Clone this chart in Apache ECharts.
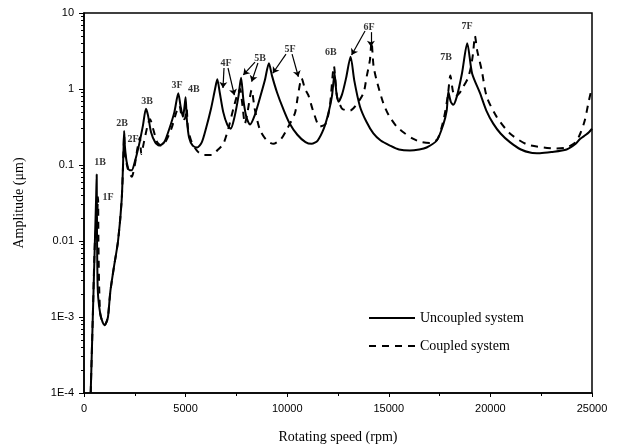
<!DOCTYPE html>
<html>
<head>
<meta charset="utf-8">
<script src="https://cdn.jsdelivr.net/npm/echarts@6/dist/echarts.min.js"></script>
<style>
  html, body { margin: 0; padding: 0; background: #fff; }
  #chart { width: 627px; height: 447px; }
</style>
</head>
<body>
<div id="chart"></div>
<script>
// uncoupled system (solid)
const uncoupledRpm = [330, 433, 537, 600, 625, 640, 665, 700, 800, 920, 1020, 1100, 1180, 1300, 1476, 1675, 1855, 1945, 1975, 2010, 2100, 2250, 2350, 2500, 2700, 2900, 3050, 3150, 3300, 3500, 3700, 3950, 4200, 4450, 4640, 4750, 4870, 4950, 5000, 5060, 5170, 5350, 5575, 5800, 6000, 6250, 6450, 6560, 6680, 6850, 7050, 7220, 7400, 7600, 7730, 7850, 8000, 8170, 8400, 8650, 8900, 9100, 9250, 9500, 9800, 10100, 10500, 10900, 11200, 11500, 11800, 12000, 12200, 12330, 12420, 12520, 12700, 12900, 13120, 13300, 13580, 13900, 14240, 14600, 15060, 15500, 16040, 16500, 16860, 17360, 17680, 17850, 17930, 18050, 18170, 18350, 18600, 18860, 19100, 19490, 19800, 20140, 20500, 20960, 21500, 22000, 22440, 23000, 23750, 24200, 24410, 24700, 24850, 25000]
const uncoupledAmp = [1e-4, 1e-3, 0.01, 0.04, 0.075, 0.012, 0.003, 0.0018, 0.0011, 0.00085, 0.00078, 0.00085, 0.001, 0.0022, 0.0046, 0.01, 0.035, 0.16, 0.28, 0.18, 0.11, 0.085, 0.085, 0.11, 0.18, 0.33, 0.55, 0.45, 0.27, 0.2, 0.18, 0.2, 0.3, 0.5, 0.88, 0.6, 0.43, 0.6, 0.78, 0.4, 0.23, 0.18, 0.17, 0.2, 0.3, 0.55, 1.0, 1.34, 0.9, 0.5, 0.34, 0.3, 0.42, 0.8, 1.41, 0.7, 0.42, 0.34, 0.45, 0.75, 1.3, 2.18, 1.5, 0.9, 0.55, 0.36, 0.25, 0.2, 0.19, 0.21, 0.3, 0.45, 0.8, 1.6, 0.9, 0.68, 0.85, 1.4, 2.66, 1.3, 0.59, 0.37, 0.26, 0.21, 0.18, 0.16, 0.155, 0.16, 0.17, 0.21, 0.34, 0.52, 0.92, 0.68, 0.62, 0.8, 1.6, 4.0, 1.6, 0.88, 0.52, 0.35, 0.26, 0.2, 0.16, 0.145, 0.143, 0.148, 0.16, 0.19, 0.22, 0.25, 0.27, 0.3]

// coupled system (dashed)
const coupledRpm = [330, 433, 537, 640, 690, 710, 740, 800, 920, 1020, 1100, 1180, 1300, 1476, 1675, 1855, 1945, 1975, 2010, 2150, 2350, 2500, 2620, 2750, 2820, 2950, 3150, 3250, 3400, 3600, 3800, 4000, 4300, 4550, 4700, 4800, 4950, 5050, 5120, 5300, 5600, 5900, 6280, 6600, 6860, 7100, 7350, 7550, 7680, 7800, 7920, 8050, 8250, 8400, 8660, 9000, 9320, 9700, 10000, 10380, 10520, 10710, 10880, 11040, 11290, 11610, 11900, 12100, 12300, 12450, 12680, 12840, 13100, 13340, 13750, 13910, 14070, 14150, 14250, 14400, 14730, 15000, 15390, 15800, 16210, 16600, 17030, 17400, 17700, 17900, 18030, 18150, 18260, 18500, 18600, 18900, 19050, 19150, 19240, 19350, 19570, 19820, 20310, 20960, 21790, 22600, 23200, 23750, 24200, 24450, 24650, 24820, 24950]
const coupledAmp = [1e-4, 1e-3, 0.01, 0.02, 0.038, 0.01, 0.003, 0.0011, 0.00085, 0.00078, 0.00085, 0.001, 0.0022, 0.0046, 0.01, 0.035, 0.15, 0.25, 0.15, 0.09, 0.07, 0.1, 0.16, 0.23, 0.14, 0.2, 0.35, 0.4, 0.3, 0.2, 0.18, 0.2, 0.3, 0.5, 0.6, 0.45, 0.4, 0.55, 0.3, 0.2, 0.15, 0.135, 0.135, 0.16, 0.19, 0.3, 0.55, 0.85, 1.0, 0.6, 0.35, 0.5, 0.97, 0.55, 0.29, 0.21, 0.19, 0.22, 0.3, 0.48, 0.79, 1.38, 1.0, 0.83, 0.5, 0.32, 0.35, 0.6, 2.0, 0.8, 0.56, 0.53, 0.52, 0.59, 0.88, 1.45, 2.4, 4.2, 2.0, 1.3, 0.65, 0.45, 0.32, 0.26, 0.22, 0.2, 0.195, 0.22, 0.4, 0.8, 1.5, 0.95, 0.79, 0.9, 1.0, 1.4, 2.0, 3.0, 5.0, 3.2, 1.78, 0.79, 0.43, 0.26, 0.187, 0.17, 0.165, 0.17, 0.2, 0.27, 0.39, 0.65, 0.93]

// resonance labels
const peakNames = ['1B', '1F', '2B', '2F', '3B', '3F', '4B', '4F', '5B', '5F', '6B', '6F', '7B', '7F']
const peakRpm = [790, 1180, 1870, 2410, 3100, 4580, 5410, 6990, 8660, 10140, 12150, 14030, 17820, 18850]
const peakAmp = [0.107, 0.038, 0.357, 0.22, 0.695, 1.1, 1.0, 2.2, 2.56, 3.36, 3.07, 6.5, 2.63, 6.74]

// arrows: [rpm, amp] from label to peak
const arrowFrom = [[6890, 1.89], [7087, 1.89], [8415, 2.26], [8560, 2.2], [9940, 2.88], [10240, 2.88], [13830, 5.8], [14120, 5.6]]
const arrowTo = [[6840, 1.03], [7400, 0.83], [7840, 1.53], [8250, 1.25], [9290, 1.61], [10550, 1.45], [13170, 2.8], [14120, 3.6]]

const yTickLabels = { '10': '10', '1': '1', '0.1': '0.1', '0.01': '0.01', '0.001': '1E-3', '0.0001': '1E-4' }

const pair = (xs, ys) => xs.map((x, i) => [x, ys[i]])

const serif = '"Liberation Serif", "DejaVu Serif", serif'
const sans = '"Liberation Sans", Arial, sans-serif'

const chart = echarts.init(document.getElementById('chart'))
chart.setOption({
  animation: false,
  backgroundColor: '#fff',
  grid: {
    left: 84,
    right: 35,
    top: 13,
    bottom: 54,
    outerBoundsMode: 'none',
    show: true,
    borderColor: '#000',
    borderWidth: 1.5
  },
  legend: {
    orient: 'vertical',
    left: 363,
    top: 306,
    itemWidth: 46,
    itemHeight: 14,
    itemGap: 14,
    data: ['Uncoupled system', 'Coupled system'],
    itemStyle: { opacity: 0 },
    textStyle: { fontFamily: serif, fontSize: 14, color: '#000' }
  },
  xAxis: {
    type: 'value',
    min: 0,
    max: 25000,
    interval: 5000,
    name: 'Rotating speed (rpm)',
    nameLocation: 'middle',
    nameGap: 37,
    nameTextStyle: { fontFamily: serif, fontSize: 14, color: '#000' },
    axisLine: { lineStyle: { color: '#000', width: 1.5 } },
    axisTick: { length: 4, lineStyle: { color: '#000' } },
    minorTick: { show: true, splitNumber: 2, length: 3, lineStyle: { color: '#000' } },
    splitLine: { show: false },
    axisLabel: { margin: 10, fontFamily: sans, fontSize: 11, color: '#000', formatter: v => String(v) }
  },
  yAxis: {
    type: 'log',
    logBase: 10,
    min: 1e-4,
    max: 10,
    name: 'Amplitude (μm)',
    nameLocation: 'middle',
    nameGap: 58,
    nameTextStyle: { fontFamily: serif, fontSize: 14, color: '#000' },
    axisLine: { lineStyle: { color: '#000', width: 1.5 } },
    axisTick: { length: 5, lineStyle: { color: '#000' } },
    minorTick: { show: true, splitNumber: 9, length: 3, lineStyle: { color: '#000' } },
    splitLine: { show: false },
    axisLabel: {
      margin: 10,
      fontFamily: sans,
      fontSize: 11,
      color: '#000',
      formatter: v => yTickLabels[String(+v.toPrecision(3))] || ''
    }
  },
  series: [{
    name: 'Uncoupled system',
    type: 'line',
    data: pair(uncoupledRpm, uncoupledAmp),
    showSymbol: false,
    symbol: 'none',
    smooth: 0.25,
    lineStyle: { color: '#000', width: 2 },
    itemStyle: { color: '#000' }
  }, {
    name: 'Coupled system',
    type: 'line',
    data: pair(coupledRpm, coupledAmp),
    showSymbol: false,
    symbol: 'none',
    smooth: 0.25,
    lineStyle: { color: '#000', width: 2, type: [7, 6] },
    itemStyle: { color: '#000' }
  }, {
    name: 'labels',
    type: 'scatter',
    symbolSize: 0,
    silent: true,
    data: peakNames.map((n, i) => ({ name: n, value: [peakRpm[i], peakAmp[i]] })),
    label: {
      show: true,
      position: 'inside',
      formatter: p => p.name,
      fontFamily: serif,
      fontSize: 10,
      fontWeight: 'bold',
      color: '#000'
    },
    markLine: {
      silent: true,
      symbol: ['none', 'arrow'],
      symbolSize: 6,
      label: { show: false },
      lineStyle: { color: '#000', width: 1.2, type: 'solid' },
      data: arrowFrom.map((f, i) => [{ coord: f }, { coord: arrowTo[i] }])
    }
  }]
})
</script>
</body>
</html>
